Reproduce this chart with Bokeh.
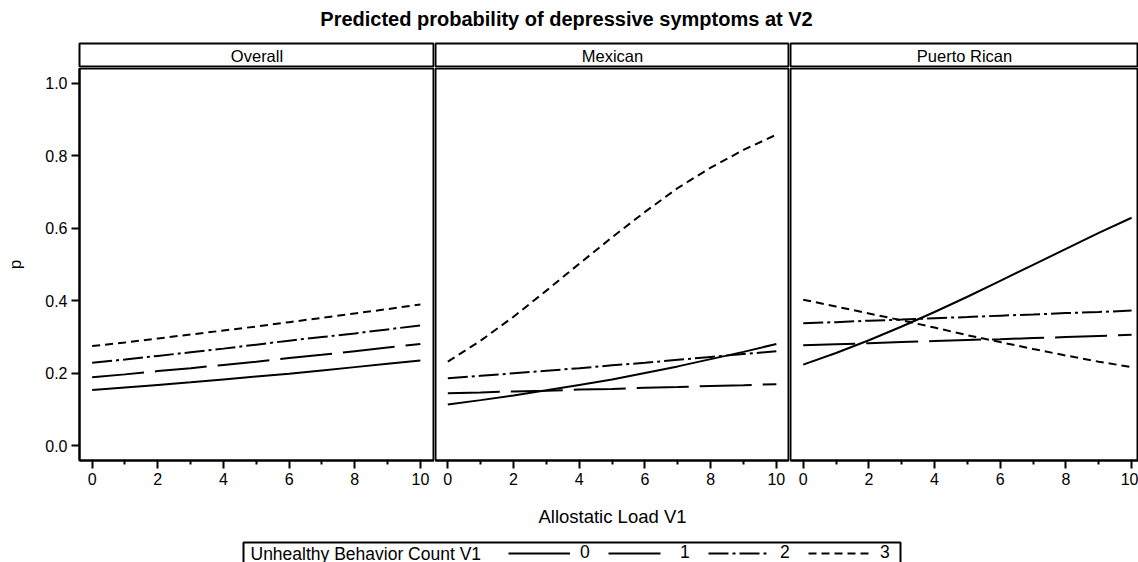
from bokeh.plotting import figure
from bokeh.layouts import column, row
from bokeh.models import (Range1d, FixedTicker, Label, Legend, LegendItem,
                          BoxAnnotation, ColumnDataSource, PrintfTickFormatter)
from bokeh.embed import file_html
from bokeh.resources import INLINE

# ---------------- data ----------------
x_vals = [0, 1, 2, 3, 4, 5, 6, 7, 8, 9, 10]
panels = ["Overall", "Mexican", "Puerto Rican"]
groups = ["0", "1", "2", "3"]

overall_0 = [0.154, 0.161, 0.168, 0.175, 0.183, 0.191, 0.199, 0.208, 0.217, 0.226, 0.235]
overall_1 = [0.189, 0.197, 0.206, 0.214, 0.223, 0.232, 0.242, 0.251, 0.261, 0.271, 0.281]
overall_2 = [0.229, 0.238, 0.248, 0.258, 0.268, 0.279, 0.290, 0.300, 0.310, 0.321, 0.332]
overall_3 = [0.275, 0.285, 0.296, 0.307, 0.318, 0.329, 0.341, 0.353, 0.365, 0.377, 0.390]

mexican_0 = [0.114, 0.126, 0.139, 0.153, 0.168, 0.183, 0.201, 0.219, 0.239, 0.259, 0.281]
mexican_1 = [0.145, 0.147, 0.150, 0.152, 0.155, 0.157, 0.160, 0.162, 0.165, 0.167, 0.170]
mexican_2 = [0.186, 0.193, 0.200, 0.207, 0.214, 0.222, 0.229, 0.237, 0.245, 0.253, 0.261]
mexican_3 = [0.232, 0.290, 0.356, 0.428, 0.502, 0.575, 0.645, 0.711, 0.767, 0.816, 0.858]

puerto_rican_0 = [0.224, 0.256, 0.291, 0.329, 0.369, 0.411, 0.455, 0.499, 0.543, 0.587, 0.629]
puerto_rican_1 = [0.277, 0.280, 0.283, 0.286, 0.289, 0.292, 0.294, 0.297, 0.300, 0.303, 0.306]
puerto_rican_2 = [0.338, 0.341, 0.345, 0.348, 0.352, 0.355, 0.359, 0.362, 0.366, 0.369, 0.373]
puerto_rican_3 = [0.403, 0.384, 0.365, 0.346, 0.326, 0.305, 0.286, 0.267, 0.249, 0.232, 0.217]

x_ticks = [0, 2, 4, 6, 8, 10]
x_minor_ticks = [1, 3, 5, 7, 9]
y_ticks = [0.0, 0.2, 0.4, 0.6, 0.8, 1.0]

title_text = "Predicted probability of depressive symptoms at V2"
x_label = "Allostatic Load V1"
y_label = "p"
legend_title = "Unhealthy Behavior Count V1"

series = {
    "Overall": [overall_0, overall_1, overall_2, overall_3],
    "Mexican": [mexican_0, mexican_1, mexican_2, mexican_3],
    "Puerto Rican": [puerto_rican_0, puerto_rican_1, puerto_rican_2, puerto_rican_3],
}

# ---------------- style ----------------
FONT = "Liberation Sans"
DASH = {"0": "solid", "1": "52 11", "2": "20 4 3 4", "3": "8 5"}
LW = 2

# panel geometry: (figure width, min_border_left, x range)
geom = {
    "Overall": (434, 79, (-0.386, 10.43)),
    "Mexican": (355, 1, (-0.375, 10.40)),
    "Puerto Rican": (349, 1, (-0.387, 10.21)),
}
Y_RANGE = (-0.0405, 1.0405)
TOTAL_W = 1138


def base_fig(width, height, xr, yr, border_left=0, border_top=0, border_bottom=0):
    f = figure(width=width, height=height, x_range=Range1d(*xr), y_range=Range1d(*yr),
               toolbar_location=None, output_backend="svg",
               min_border_left=border_left, min_border_right=0,
               min_border_top=border_top, min_border_bottom=border_bottom,
               x_axis_location=None, y_axis_location=None)
    f.grid.visible = False
    f.background_fill_color = "white"
    f.border_fill_color = "white"
    f.outline_line_color = None
    return f


# title figure
tf = base_fig(TOTAL_W, 42, (0, TOTAL_W), (0, 42))
tf.add_layout(Label(x=566, y=24, text=title_text, text_align="center",
                    text_baseline="middle", text_font=FONT,
                    text_font_size="20px", text_font_style="bold", text_color="black"))

headers = []
plots = []
for name in panels:
    w, bl, xr = geom[name]
    # header strip
    h = base_fig(w, 25, (0, 1), (0, 1), border_left=bl, border_top=1, border_bottom=1)
    h.outline_line_color = "black"
    h.outline_line_width = LW
    h.add_layout(Label(x=0.5, y=0.45, text=name, text_align="center", text_baseline="middle",
                       text_font=FONT, text_font_size="16.5px", text_color="black"))
    headers.append(h)

    # panel
    p = figure(width=w, height=463, x_range=Range1d(*xr), y_range=Range1d(*Y_RANGE),
               toolbar_location=None, output_backend="svg",
               min_border_left=bl, min_border_right=0, min_border_top=1, min_border_bottom=70,
               y_axis_location="left" if name == "Overall" else None)
    p.grid.visible = False
    p.outline_line_color = "black"
    p.outline_line_width = LW
    p.background_fill_color = "white"
    p.border_fill_color = "white"

    xa = p.xaxis[0]
    xa.ticker = FixedTicker(ticks=x_ticks, minor_ticks=x_minor_ticks)
    xa.axis_line_width = LW
    xa.axis_line_color = "black"
    xa.major_tick_line_width = LW
    xa.minor_tick_line_width = LW
    xa.major_tick_line_color = "black"
    xa.minor_tick_line_color = "black"
    xa.major_tick_out = 8
    xa.major_tick_in = 0
    xa.minor_tick_out = 4
    xa.minor_tick_in = 0
    xa.major_label_standoff = 4
    xa.major_label_text_font = FONT
    xa.major_label_text_font_size = "16px"
    xa.major_label_text_color = "black"
    xa.axis_label = x_label
    xa.axis_label_text_font = FONT
    xa.axis_label_text_font_size = "18.5px"
    xa.axis_label_text_font_style = "normal"
    xa.axis_label_text_color = "black"
    xa.axis_label_standoff = 18
    if name != "Mexican":
        xa.axis_label_text_alpha = 0

    if name == "Overall":
        ya = p.yaxis[0]
        ya.ticker = FixedTicker(ticks=y_ticks, minor_ticks=[])
        ya.formatter = PrintfTickFormatter(format="%.1f")
        ya.axis_line_width = LW
        ya.axis_line_color = "black"
        ya.major_tick_line_width = LW
        ya.major_tick_line_color = "black"
        ya.major_tick_out = 8
        ya.major_tick_in = 0
        ya.major_label_standoff = 4
        ya.major_label_text_font = FONT
        ya.major_label_text_font_size = "16px"
        ya.major_label_text_color = "black"
        ya.axis_label = y_label
        ya.axis_label_text_font = FONT
        ya.axis_label_text_font_size = "17px"
        ya.axis_label_text_font_style = "normal"
        ya.axis_label_text_color = "black"
        ya.axis_label_standoff = 17

    for g, vals in zip(groups, series[name]):
        src = ColumnDataSource(dict(x=x_vals, y=vals))
        p.line("x", "y", source=src, line_color="black", line_width=LW, line_dash=DASH[g])
    plots.append(p)

# legend figure (legend sample renderers sit outside the visible range)
lf = base_fig(TOTAL_W, 32, (0, TOTAL_W), (0, 32))
items = []
for g in groups:
    r = lf.line(x=[-20, -10], y=[-20, -20], line_color="black", line_width=LW, line_dash=DASH[g])
    items.append(LegendItem(label=g, renderers=[r]))
leg = Legend(items=items, orientation="horizontal", location=(508, -1),
             glyph_width=62, glyph_height=20, label_standoff=10, label_width=20,
             spacing=8, padding=0, margin=0,
             border_line_color=None, background_fill_alpha=0,
             label_text_font=FONT, label_text_font_size="17.5px",
             label_text_color="black", label_text_baseline="middle")
lf.add_layout(leg, "center")
lf.add_layout(BoxAnnotation(left=243, right=900, bottom=-10, top=20,
                            fill_alpha=0, line_color="black", line_alpha=1, line_width=LW))
lf.add_layout(Label(x=250, y=9, text=legend_title, text_align="left", text_baseline="middle",
                    text_font=FONT, text_font_size="17.5px", text_color="black"))

layout = column(tf, row(*headers, spacing=0), row(*plots, spacing=0), lf, spacing=0)

open("out.html", "w").write(file_html(layout, INLINE))
